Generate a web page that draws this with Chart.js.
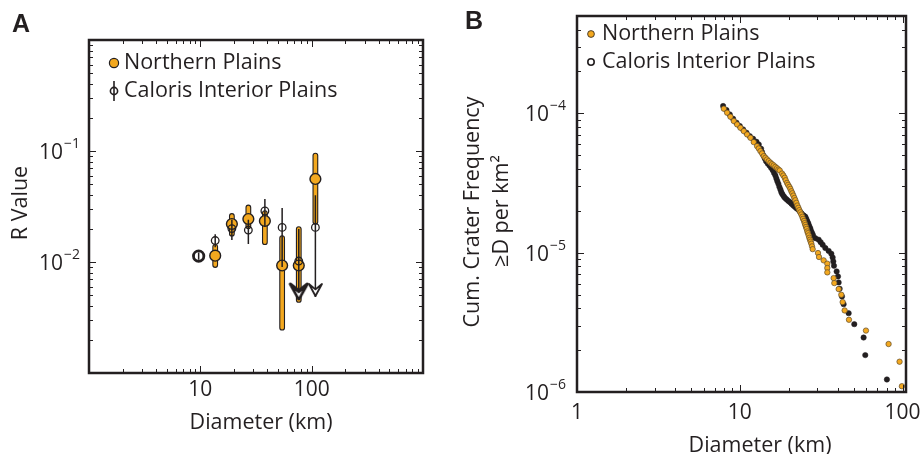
<!DOCTYPE html>
<html>
<head>
<meta charset="utf-8">
<script src="https://cdn.jsdelivr.net/npm/chart.js@4.4.0/dist/chart.umd.min.js"></script>
<style>
html,body{margin:0;padding:0;background:#fff;}
#wrap{position:relative;width:923px;height:454px;overflow:hidden;}
#chA{position:absolute;left:0;top:0;}
#chB{position:absolute;left:460px;top:0;}
</style>
</head>
<body>
<div id="wrap">
  <canvas id="chA" width="460" height="454"></canvas>
  <canvas id="chB" width="463" height="454"></canvas>
</div>
<script>
/* ---------- Panel A: R values ---------- */
const npDiam=[13.6,19.2,27,38,54.3,76.6,108];
const npR   =[0.0114,0.022,0.0244,0.0234,0.0093,0.0093,0.056];
const npLo  =[0.0094,0.018,0.021,0.0151,0.00256,0.00455,0.0231];
const npHi  =[0.0137,0.026,0.031,0.0276,0.0164,0.0198,0.091];
const npArrow=[76.6];            // bins with an upper limit only

const ciDiam=[9.66,13.6,19.2,27,38,54.3,76.6,108];
const ciR   =[0.0113,0.0156,0.020,0.0194,0.0288,0.0205,0.0102,0.0205];
const ciLo  =[0.0105,0.0136,0.0158,0.0145,0.021,0.009,0.00455,0.00484];
const ciHi  =[0.0122,0.0178,0.024,0.024,0.037,0.0306,0.0198,0.040];
const ciArrow=[76.6,108];

/* ---------- Panel B: cumulative frequency ---------- */
const npCumD=[7.98,8.36,8.76,9.19,9.63,10.09,10.58,11.09,11.63,12.18,12.77,13.08,13.39,13.71,14.04,14.37,14.71,15.06,15.43,15.79,
  16.17,16.55,16.94,17.27,17.60,18.18,18.53,18.89,19.15,19.52,19.80,20.17,20.46,20.75,21.04,21.34,21.65,21.95,22.27,22.58,
  22.91,23.23,23.56,23.89,24.24,24.46,24.81,25.05,25.28,25.53,25.76,26.01,26.25,26.51,26.76,27.01,27.27,27.53,27.79,28.05,
  30.24,30.67,32.75,34.50,34.50,34.50,37.73,38.09,40.50,42.05,42.85,44.08,46.86,59.59,82.07,95.85,99.06];
const npCumN=[1.080e-4,1.011e-4,9.46e-5,8.81e-5,8.33e-5,7.88e-5,7.46e-5,7.06e-5,6.68e-5,6.22e-5,5.82e-5,5.60e-5,5.36e-5,5.16e-5,4.93e-5,4.80e-5,4.67e-5,4.54e-5,4.42e-5,4.32e-5,
  4.23e-5,4.13e-5,4.04e-5,3.95e-5,3.89e-5,3.70e-5,3.58e-5,3.45e-5,3.31e-5,3.17e-5,3.07e-5,2.97e-5,2.87e-5,2.76e-5,2.67e-5,2.57e-5,2.47e-5,2.38e-5,2.28e-5,2.18e-5,
  2.10e-5,2.02e-5,1.95e-5,1.88e-5,1.81e-5,1.75e-5,1.69e-5,1.63e-5,1.58e-5,1.53e-5,1.48e-5,1.42e-5,1.38e-5,1.33e-5,1.28e-5,1.24e-5,1.20e-5,1.16e-5,1.11e-5,1.06e-5,
  9.94e-6,9.31e-6,8.81e-6,8.34e-6,7.76e-6,7.22e-6,6.57e-6,6.05e-6,5.48e-6,4.99e-6,4.42e-6,3.85e-6,3.30e-6,2.76e-6,2.21e-6,1.65e-6,1.10e-6];

const ciCumD=[7.90,8.28,8.68,9.10,9.54,10.00,10.48,10.99,11.52,12.07,12.66,13.08,13.52,13.71,13.97,14.24,14.51,14.85,15.21,15.57,
  15.94,16.24,16.55,16.79,17.02,17.27,17.51,17.77,18.01,18.27,18.62,18.97,19.43,19.89,20.36,20.84,21.34,21.85,22.37,22.91,
  23.45,23.89,24.35,24.81,25.28,25.64,26.01,26.38,26.76,27.14,27.53,27.92,28.18,29.12,30.52,31.40,32.30,33.54,35.16,36.51,
  37.20,37.55,37.91,39.37,40.12,40.50,41.07,42.45,43.45,46.64,50.52,57.65,59.02,80.16];
const ciCumN=[1.129e-4,1.057e-4,9.83e-5,9.15e-5,8.57e-5,8.11e-5,7.67e-5,7.26e-5,6.87e-5,6.57e-5,6.25e-5,5.98e-5,5.57e-5,5.27e-5,4.98e-5,4.75e-5,4.54e-5,4.37e-5,4.23e-5,4.07e-5,
  3.91e-5,3.74e-5,3.58e-5,3.41e-5,3.26e-5,3.12e-5,2.97e-5,2.84e-5,2.72e-5,2.63e-5,2.54e-5,2.47e-5,2.41e-5,2.35e-5,2.30e-5,2.24e-5,2.18e-5,2.13e-5,2.08e-5,2.03e-5,
  1.97e-5,1.92e-5,1.87e-5,1.84e-5,1.81e-5,1.75e-5,1.68e-5,1.62e-5,1.55e-5,1.49e-5,1.42e-5,1.37e-5,1.33e-5,1.27e-5,1.24e-5,1.19e-5,1.14e-5,1.08e-5,1.03e-5,9.83e-6,
  9.25e-6,8.66e-6,8.06e-6,7.34e-6,6.76e-6,6.12e-6,5.51e-6,4.85e-6,4.27e-6,3.68e-6,3.07e-6,2.46e-6,1.84e-6,1.23e-6];

/* ---------- tick labels ---------- */
const aTickX=[10,100], aTickY=[0.1,0.01];
const bTickX=[1,10,100], bTickY=[1e-4,1e-5,1e-6];

const ORANGE='#F3A81F', INK='#231F20';
const FONT="'Open Sans', sans-serif";

/* ---------- helpers ---------- */
function pts(xs,ys){return xs.map((x,i)=>({x,y:ys[i]}));}
function barSegs(d,lo,hi){const s=[];d.forEach((x,i)=>{s.push({x,y:lo[i]},{x,y:hi[i]},{x,y:null});});return s;}
function arrowHead(fill,lw,w,h){
  // tip sits at the image centre, head points down
  const c=document.createElement('canvas');c.width=w+8;c.height=2*h+8;
  const g=c.getContext('2d'),cx=c.width/2,cy=c.height/2-1;
  g.beginPath();g.moveTo(cx,cy);g.lineTo(cx-w/2,cy-h);g.lineTo(cx,cy-h*0.55);g.lineTo(cx+w/2,cy-h);g.closePath();
  g.fillStyle=fill;g.fill();g.lineJoin='round';g.lineWidth=lw;g.strokeStyle=INK;g.stroke();
  return c;
}
function logTicks(min,max){
  const out=[];
  for(let e=Math.floor(Math.log10(min));e<=Math.ceil(Math.log10(max));e++){
    for(let m=1;m<10;m++){const v=m*Math.pow(10,e);if(v>=min*0.999&&v<=max*1.001)out.push({v,major:m===1});}
  }
  return out;
}
function drawFrame(chart,major,minor){
  const {ctx,chartArea:a,scales:{x,y}}=chart;
  ctx.save();ctx.strokeStyle=INK;ctx.lineWidth=1;
  logTicks(x.min,x.max).forEach(t=>{
    const px=Math.round(x.getPixelForValue(t.v))+0.5,l=t.major?major:minor;
    ctx.beginPath();ctx.moveTo(px,a.bottom);ctx.lineTo(px,a.bottom-l);ctx.moveTo(px,a.top);ctx.lineTo(px,a.top+l);ctx.stroke();
  });
  logTicks(y.min,y.max).forEach(t=>{
    const py=Math.round(y.getPixelForValue(t.v))+0.5,l=t.major?major:minor;
    ctx.beginPath();ctx.moveTo(a.left,py);ctx.lineTo(a.left+l,py);ctx.moveTo(a.right,py);ctx.lineTo(a.right-l,py);ctx.stroke();
  });
  ctx.lineWidth=2.5;ctx.strokeRect(a.left,a.top,a.right-a.left,a.bottom-a.top);
  ctx.restore();
}
function drawPow(ctx,xr,yc,exp){
  ctx.save();ctx.fillStyle=INK;ctx.textBaseline='middle';ctx.textAlign='left';
  ctx.font='14px '+FONT;const sup='\u2212'+exp,ws=ctx.measureText(sup).width;
  ctx.font='21px '+FONT;const wb=ctx.measureText('10').width;
  ctx.fillText('10',xr-ws-wb-1,yc+2);
  ctx.font='14px '+FONT;ctx.fillText(sup,xr-ws,yc-7);
  ctx.restore();
}
function text(ctx,s,x,y,opt){
  ctx.save();ctx.fillStyle=INK;ctx.font=(opt&&opt.font)||('21.5px '+FONT);
  ctx.textAlign=(opt&&opt.align)||'center';ctx.textBaseline='middle';
  ctx.translate(x,y);if(opt&&opt.rot)ctx.rotate(opt.rot);ctx.fillText(s,0,0);ctx.restore();
}
const LETTER='bold 25px "Liberation Sans", Arial, sans-serif';

/* ---------- Panel A ---------- */
const frameA={id:'frameA',afterDraw(chart){
  const {ctx,scales:{x,y}}=chart;
  drawFrame(chart,7,4);
  aTickX.forEach(v=>text(ctx,String(v),x.getPixelForValue(v),390,{font:'21px '+FONT}));
  aTickY.forEach(v=>drawPow(ctx,80,y.getPixelForValue(v),-Math.log10(v)));
  text(ctx,'Diameter (km)',261,423);
  text(ctx,'R Value',21,203,{rot:-Math.PI/2});
  text(ctx,'A',21,25,{font:LETTER});
  // legend
  ctx.save();ctx.strokeStyle=INK;ctx.fillStyle=ORANGE;ctx.lineWidth=1.2;
  ctx.beginPath();ctx.arc(114,63,4.6,0,Math.PI*2);ctx.fill();ctx.stroke();
  ctx.lineWidth=1.6;ctx.beginPath();ctx.moveTo(114,81);ctx.lineTo(114,101);ctx.stroke();
  ctx.beginPath();ctx.arc(114,91,3.6,0,Math.PI*2);ctx.stroke();
  ctx.restore();
  text(ctx,'Northern Plains',124,63,{align:'left'});
  text(ctx,'Caloris Interior Plains',124,91,{align:'left'});
}};

new Chart(document.getElementById('chA'),{
  type:'scatter',
  data:{datasets:[
    {label:'Caloris Interior Plains',data:pts(ciDiam,ciR),order:1,
     pointRadius:c=>c.dataIndex===0?5.2:3.8,pointBorderWidth:c=>c.dataIndex===0?2.8:1.3,
     pointBackgroundColor:'rgba(255,255,255,0)',pointBorderColor:INK},
    {data:ciArrow.map(d=>({x:d,y:ciLo[ciDiam.indexOf(d)]})),order:2,pointRadius:4,
     pointStyle:arrowHead('#fff',1.8,13,12)},
    {data:barSegs(ciDiam,ciLo,ciHi),showLine:true,spanGaps:false,pointRadius:0,order:3,
     borderColor:INK,borderWidth:1.5},
    {label:'Northern Plains',data:pts(npDiam,npR),order:4,pointRadius:5.4,pointBorderWidth:1.4,
     pointBackgroundColor:ORANGE,pointBorderColor:INK},
    {data:npArrow.map(d=>({x:d,y:npLo[npDiam.indexOf(d)]})),order:5,pointRadius:4,
     pointStyle:arrowHead(ORANGE,3,17,15)},
    {data:barSegs(npDiam,npLo,npHi),showLine:true,spanGaps:false,pointRadius:0,order:6,
     borderColor:ORANGE,borderWidth:3.6,borderCapStyle:'round'},
    {data:barSegs(npDiam,npLo,npHi),showLine:true,spanGaps:false,pointRadius:0,order:7,
     borderColor:INK,borderWidth:5.8,borderCapStyle:'round'}
  ]},
  options:{responsive:false,animation:false,
    layout:{padding:{left:89,right:37,top:40,bottom:81}},
    plugins:{legend:{display:false},tooltip:{enabled:false}},
    scales:{
      x:{type:'logarithmic',min:1,max:1000,display:false},
      y:{type:'logarithmic',min:0.001,max:1,display:false}
    }},
  plugins:[frameA]
});

/* ---------- Panel B ---------- */
const frameB={id:'frameB',afterDraw(chart){
  const {ctx,scales:{x,y}}=chart;
  drawFrame(chart,7,4);
  bTickX.forEach(v=>text(ctx,String(v),x.getPixelForValue(v),413,{font:'21px '+FONT}));
  bTickY.forEach(v=>drawPow(ctx,106,y.getPixelForValue(v),-Math.log10(v)));
  text(ctx,'Diameter (km)',300,446);
  text(ctx,'Cum. Crater Frequency',13,212,{rot:-Math.PI/2});
  text(ctx,'\u2265D per km\u00B2',42,211,{rot:-Math.PI/2});
  text(ctx,'B',14,22,{font:LETTER});
  ctx.save();ctx.strokeStyle=INK;ctx.lineWidth=0.8;ctx.fillStyle=ORANGE;
  ctx.beginPath();ctx.arc(131,34,3.4,0,Math.PI*2);ctx.fill();ctx.stroke();
  ctx.lineWidth=1.6;ctx.beginPath();ctx.arc(131,62,3.2,0,Math.PI*2);ctx.stroke();
  ctx.restore();
  text(ctx,'Northern Plains',142,34,{align:'left'});
  text(ctx,'Caloris Interior Plains',142,62,{align:'left'});
}};

new Chart(document.getElementById('chB'),{
  type:'scatter',
  data:{datasets:[
    {label:'Northern Plains',data:pts(npCumD,npCumN),order:1,pointRadius:2.7,pointBorderWidth:0.7,
     pointBackgroundColor:ORANGE,pointBorderColor:'#5e4c2e'},
    {label:'Caloris Interior Plains',data:pts(ciCumD,ciCumN),order:2,pointRadius:2.7,pointBorderWidth:0.5,
     pointBackgroundColor:INK,pointBorderColor:INK}
  ]},
  options:{responsive:false,animation:false,
    layout:{padding:{left:117,right:17,top:16,bottom:62}},
    plugins:{legend:{display:false},tooltip:{enabled:false}},
    scales:{
      x:{type:'logarithmic',min:1,max:105,display:false},
      y:{type:'logarithmic',min:1e-6,max:5e-4,display:false}
    }},
  plugins:[frameB]
});
</script>
</body>
</html>
